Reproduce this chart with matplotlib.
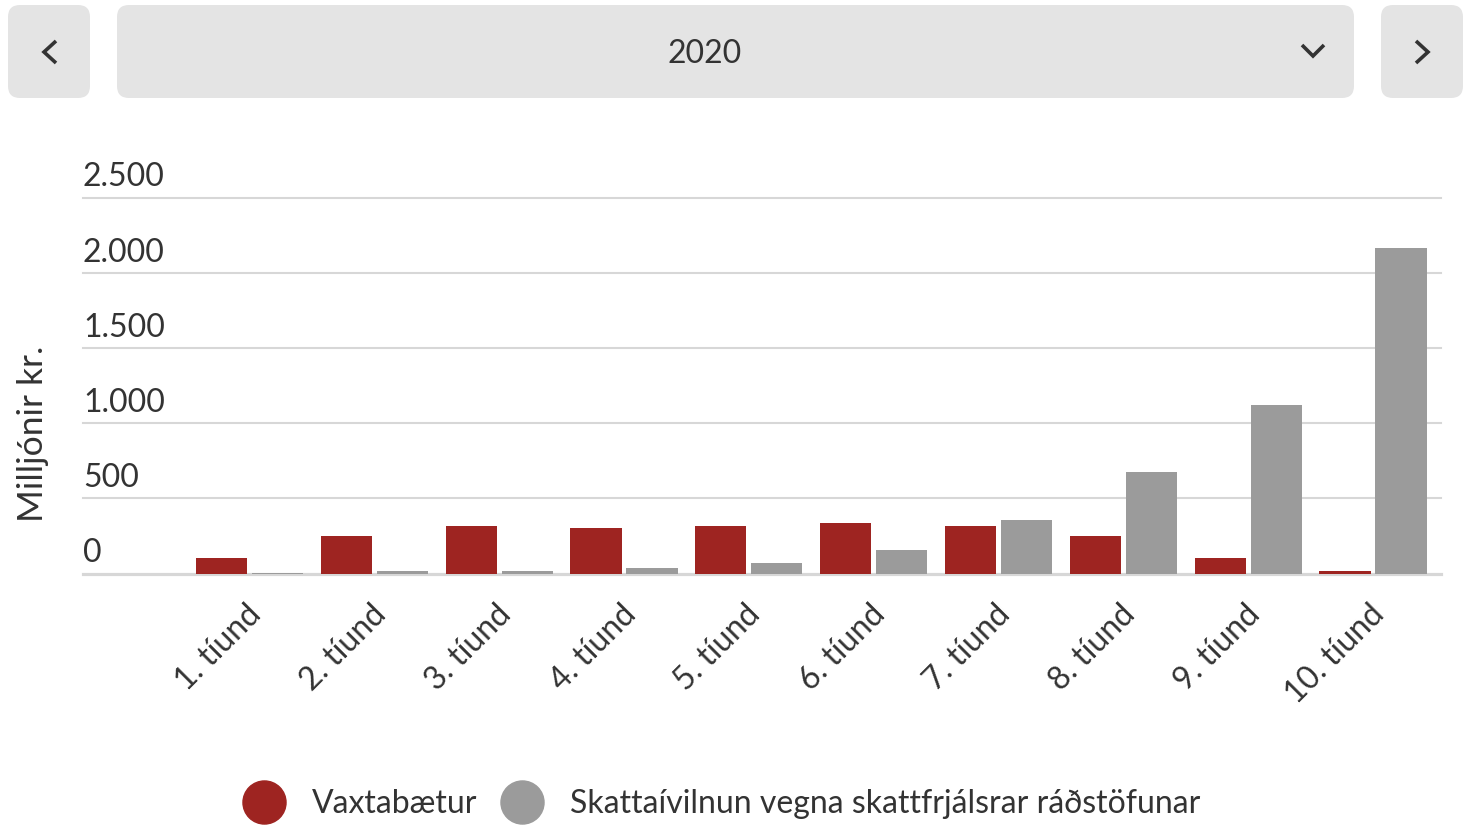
import numpy as np
import matplotlib
matplotlib.use("Agg")
import matplotlib.pyplot as plt
from matplotlib.patches import FancyBboxPatch
from matplotlib.lines import Line2D
from matplotlib.transforms import ScaledTranslation

plt.rcParams['font.family'] = ['Lato', 'DejaVu Sans']

# data (milljónir kr.)
year = "2020"
categories = ["1. tíund", "2. tíund", "3. tíund", "4. tíund", "5. tíund",
              "6. tíund", "7. tíund", "8. tíund", "9. tíund", "10. tíund"]
vaxtabaetur = [104, 251, 317, 304, 317, 337, 317, 251, 104, 18]
skattaivilnun = [3, 18, 18, 38, 71, 158, 357, 677, 1123, 2169]
series_names = ["Vaxtabætur", "Skattaívilnun vegna skattfrjálsrar ráðstöfunar"]
y_ticks = [0, 500, 1000, 1500, 2000, 2500]
y_title = "Milljónir kr."

RED = "#9e2421"
GRAY = "#9b9b9b"
GRID = "#d7d7d7"
TEXT = "#333333"
BTN = "#e4e4e4"

W, H = 1471, 825
fig = plt.figure(figsize=(W / 100, H / 100), dpi=100)

# header with the year selector, drawn in pixel coords
hdr = fig.add_axes([0, 0, 1, 1])
hdr.set_xlim(0, W)
hdr.set_ylim(H, 0)
hdr.axis("off")
r = 12
for x0, x1 in [(8, 90), (117, 1354), (1381, 1463)]:
    hdr.add_patch(FancyBboxPatch((x0 + r, 5 + r), x1 - x0 - 2 * r, 93 - 2 * r,
                                 boxstyle=f"round,pad={r}", fc=BTN, ec="none"))
chev = dict(color=TEXT, lw=2.6, solid_joinstyle="miter", solid_capstyle="butt")
hdr.plot([56, 44, 56], [41, 52, 63], **chev)
hdr.plot([1302, 1313, 1324], [45, 56, 45], **chev)
hdr.plot([1416, 1428, 1416], [41, 52, 63], **chev)
hdr.text(705, 54, year, ha="center", va="center", fontsize=23, color=TEXT)

# chart
ax = fig.add_axes([83 / W, 1 - 573.5 / H, (1441 - 83) / W, (573.5 - 198.3) / H])
x = np.arange(len(categories))
ax.bar(x - 0.224, vaxtabaetur, width=0.41, color=RED, zorder=3)
ax.bar(x + 0.224, skattaivilnun, width=0.41, color=GRAY, zorder=3)
ax.set_xlim(-1.334, 9.545)
ax.set_ylim(0, 2500)

for v in y_ticks[1:]:
    ax.axhline(v, color=GRID, lw=1.5, clip_on=False, zorder=1)
ax.axhline(0, color=GRID, lw=2.3, clip_on=False, zorder=2)

for s in ax.spines.values():
    s.set_visible(False)
ax.set_yticks([])
for v in y_ticks:
    ax.annotate(f"{v:,}".replace(",", "."), xy=(0, v),
                xycoords=("axes fraction", "data"), xytext=(0, 8.5),
                textcoords="offset points", ha="left", va="baseline",
                fontsize=23, color=TEXT)

ax.set_xticks(x)
ax.set_xticklabels(categories, rotation=45, ha="right", va="center",
                   rotation_mode="anchor", fontsize=23, color=TEXT)
ax.tick_params(axis="x", length=0, pad=26)
shift = ScaledTranslation(7 / 100, 0, fig.dpi_scale_trans)
for lab in ax.get_xticklabels():
    lab.set_transform(lab.get_transform() + shift)

fig.text(33 / W, 1 - 434 / H, y_title, rotation=90, ha="center", va="center",
         fontsize=25.5, color=TEXT)

handles = [Line2D([], [], marker="o", ls="none", markersize=31, color=c)
           for c in (RED, GRAY)]
fig.legend(handles, series_names, loc="center", bbox_to_anchor=(721 / W, 1 - 804 / H),
           ncol=2, frameon=False, fontsize=23, handletextpad=0.8,
           columnspacing=0.7, handlelength=1.4, labelcolor=TEXT)

fig.savefig("out.png", dpi=100)
